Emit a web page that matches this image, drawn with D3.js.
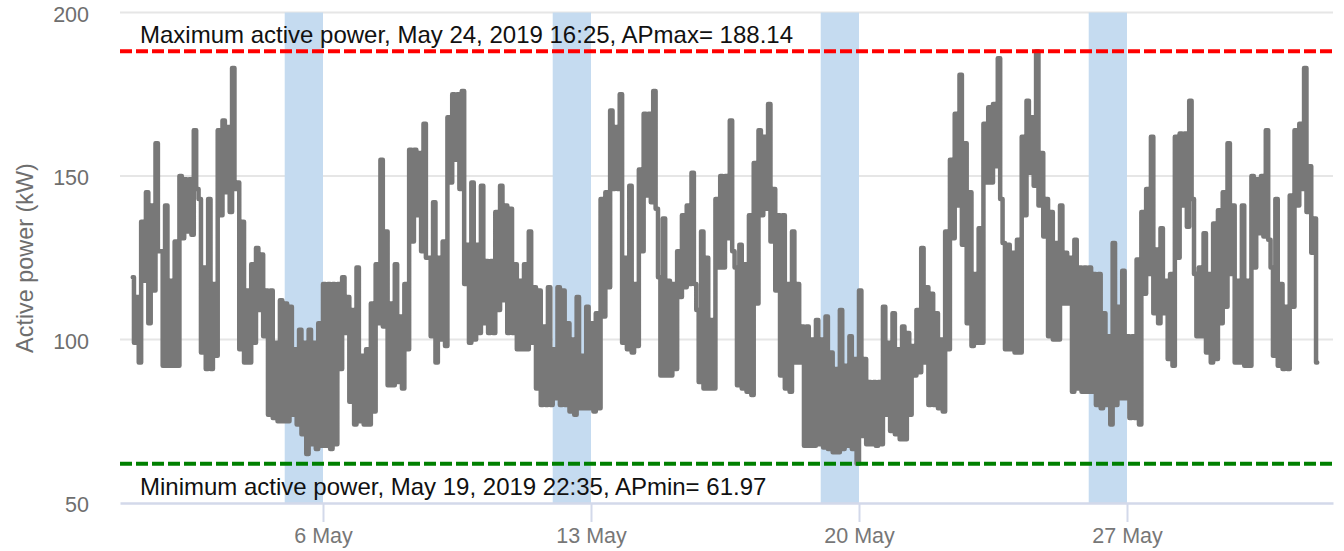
<!DOCTYPE html>
<html>
<head>
<meta charset="utf-8">
<script src="https://cdn.jsdelivr.net/npm/d3@7"></script>
<style>
  html, body { margin: 0; padding: 0; background: #fff; }
  svg { display: block; font-family: "Liberation Sans", Arial, sans-serif; }
</style>
</head>
<body>
<svg id="chart" width="1344" height="551"></svg>
<script>
// ---- data ----
// 3-hour slots from 1 May 2019 00:00, 8 per day; upper and lower envelope of the 5-min series
const slotHigh = [
  119,113,136,145,141,160,127,141,
  118,130,150,149,149,164,143,122,
  143,117,164,167,165,183,148,136,
  115,123,128,126,115,115,99,112,
  111,110,97,103,99,103,99,105,
  117,117,117,117,119,113,109,122,
  95,97,111,123,155,133,111,123,
  107,117,158,158,157,166,125,142,
  125,130,168,175,175,176,129,148,
  129,147,124,124,139,147,141,140,
  123,118,123,133,116,115,104,116,
  97,116,115,105,100,113,95,110,
  105,108,143,145,170,165,175,125,
  147,117,152,169,169,176,119,137,
  118,117,127,138,141,151,109,133,
  125,106,143,150,150,167,122,129,
  123,138,154,164,162,172,146,138,
  138,117,133,117,104,104,100,106,
  100,107,96,91,109,92,101,94,
  115,94,87,87,87,110,99,108,
  97,104,102,98,109,128,116,114,
  108,100,133,155,169,181,160,145,
  120,134,166,171,172,186,129.5,129,
  126.5,130.5,162,173,168,188.14,157,143,
  139,129.5,141,126.5,125,130.5,122,122,
  122,120,120,108,101,129.5,110,121,
  101,101,124.5,139,146,162,127.5,134,
  118,120,162,163,163,173,120,122,
  132.5,120,135.5,139.5,145,160,141,118,
  141,118,150,149,150,164,122,143,
  117,110,144,164,166,183,153,137
];
const slotLow = [
  99,93,118,105,115,127,92,92,
  92,92,131,133,132,146,96,91,
  91,95,138,145,139,146,97,93,
  93,99,109,101,77,76,75,75,
  75,77,74,71,65,68,66.5,67.5,
  67.5,66.5,68,91,102,81,74,75,
  74,74,78,105,104,86,86,87,
  85,97,130,138,127,125,101,93,
  100,98,148,155,146,117,99,100,
  102,105,102,102,109,112,102,102,
  97,97,97,99,85,80,80,80,
  82,80,80,78,77,79,79,79,
  78,79,107,116,146,146,99,97,
  96,98,127,144,142,140,89,89,
  89,91,113,116,117,117,87,85,
  85,85,122,122,131,127,86,85,
  84,83,111,138,140,130,115,89,
  85,84,93,93,67.5,67.5,67.5,68,
  67,66.5,65.5,65.5,66.5,67.5,66.5,61.97,
  70.5,68,68,67.5,68,77,72,71,
  69.5,69.5,77,89,90,93,80,80,
  79,78,97,131,141,129,105,98,
  99,99,148,148,153,143,97,97,
  96,96,138,151,147,141,131.5,101,
  100,100,111,111,84,85,84,84,
  84,80,79,80,74,80,82,82,
  76,76,74,114,120,108,105,108,
  94,92,125,141,134.5,143,101,101,
  96,93,94,105,110,120,93,93,
  92,92,122,132.5,131.5,130.5,95,92,
  91,91,110,141,146,139,126.5,93
];
const seriesStart = "2019-05-01T00:00:00";
const sundays = ["2019-05-05", "2019-05-12", "2019-05-19", "2019-05-26"];
const xTickDates = ["2019-05-06", "2019-05-13", "2019-05-20", "2019-05-27"];
const xTickLabels = ["6 May", "13 May", "20 May", "27 May"];
const yTicks = [50, 100, 150, 200];
const apMax = 188.14, apMin = 61.97;
const maxLabel = "Maximum active power, May 24, 2019 16:25, APmax= 188.14";
const minLabel = "Minimum active power, May 19, 2019 22:35, APmin= 61.97";
const yTitle = "Active power (kW)";
const xRange = ["2019-04-30T16:45:00", "2019-06-01T09:08:00"];
const yRange = [50, 200];

// ---- build ----
const parse = s => new Date(s);
const HOUR = 3600 * 1000;
const t0 = parse(seriesStart).getTime();
const points = [];
slotHigh.forEach((h, i) => {
  points.push({ t: new Date(t0 + (i * 3 + 0.75) * HOUR), v: h });
  points.push({ t: new Date(t0 + (i * 3 + 2.25) * HOUR), v: slotLow[i] });
});

const svg = d3.select("#chart");
const L = 120, R = 1333, T = 12.5, B = 503;
const x = d3.scaleTime().domain(xRange.map(parse)).range([L, R]);
const y = d3.scaleLinear().domain(yRange).range([B, T]);

// grid
svg.append("g").selectAll("line").data(yTicks.filter(d => d !== yRange[0])).join("line")
  .attr("x1", L).attr("x2", R).attr("y1", d => y(d)).attr("y2", d => y(d))
  .attr("stroke", "#e6e6e6").attr("stroke-width", 2);

// sunday bands
svg.append("g").selectAll("rect").data(sundays).join("rect")
  .attr("x", d => x(parse(d + "T00:00:00")))
  .attr("width", d => x(new Date(parse(d + "T00:00:00").getTime() + 24 * HOUR)) - x(parse(d + "T00:00:00")))
  .attr("y", T).attr("height", B - T)
  .attr("fill", "#c5dbf0");

// series
svg.append("path").datum(points)
  .attr("d", d3.line().curve(d3.curveStep).x(d => x(d.t)).y(d => y(d.v)))
  .attr("fill", "none").attr("stroke", "#787878").attr("stroke-width", 4.5)
  .attr("stroke-linejoin", "round").attr("stroke-linecap", "round");

// max / min lines
svg.append("line").attr("x1", L).attr("x2", R).attr("y1", y(apMax)).attr("y2", y(apMax))
  .attr("stroke", "#ff0000").attr("stroke-width", 4).attr("stroke-dasharray", "12,4");
svg.append("line").attr("x1", L).attr("x2", R).attr("y1", y(apMin)).attr("y2", y(apMin))
  .attr("stroke", "#008000").attr("stroke-width", 4).attr("stroke-dasharray", "12,4");

// x axis line + ticks
const xAxis = d3.axisBottom(x)
  .tickValues(xTickDates.map(d => parse(d + "T00:00:00")))
  .tickFormat((d, i) => xTickLabels[i])
  .tickSize(19).tickPadding(6).tickSizeOuter(0);
const gx = svg.append("g").attr("transform", `translate(0,${B})`).call(xAxis);
gx.select(".domain").attr("stroke", "#d3d9ea").attr("stroke-width", 2.5);
gx.selectAll(".tick line").attr("stroke", "#d3d9ea").attr("stroke-width", 2);
gx.selectAll(".tick text").attr("fill", "#777").attr("font-size", 21.5)
  .attr("font-family", "Liberation Sans, Arial, sans-serif");

// y axis labels
const yAxis = d3.axisLeft(y).tickValues(yTicks).tickSize(0).tickPadding(31);
const gy = svg.append("g").attr("transform", `translate(${L},0)`).call(yAxis);
gy.select(".domain").remove();
gy.selectAll(".tick text").attr("fill", "#6e6e6e").attr("font-size", 21.5)
  .attr("dy", "0.40em").attr("font-family", "Liberation Sans, Arial, sans-serif");

// annotations
svg.append("text").attr("x", 140).attr("y", 43.3).attr("font-size", 24).attr("fill", "#111")
  .text(maxLabel);
svg.append("text").attr("x", 140).attr("y", 494.5).attr("font-size", 24).attr("fill", "#111")
  .text(minLabel);

// y title
svg.append("text").attr("transform", "translate(33,258) rotate(-90)")
  .attr("text-anchor", "middle").attr("font-size", 23.4).attr("fill", "#6e6e6e")
  .text(yTitle);
</script>
</body>
</html>
